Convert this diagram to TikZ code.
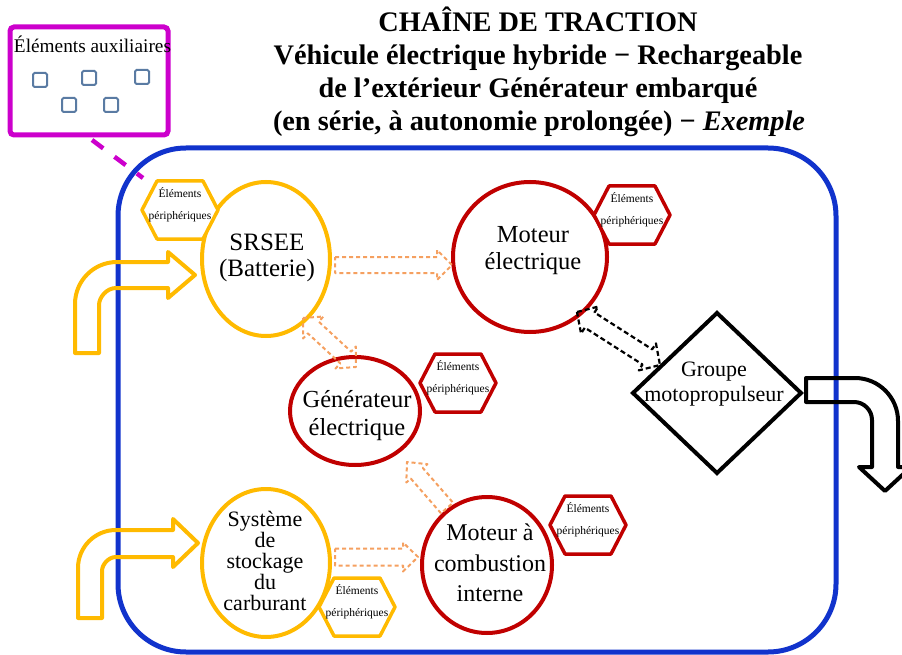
\documentclass[tikz,border=0pt]{standalone}
\usepackage{fontspec}
\setmainfont{Liberation Serif}
\usetikzlibrary{shapes.geometric,calc}
\definecolor{yel}{HTML}{FFBA00}
\definecolor{redc}{HTML}{C00000}
\definecolor{blu}{HTML}{1133CC}
\definecolor{mag}{HTML}{CC00CC}
\definecolor{ora}{HTML}{F5A060}
\definecolor{sqc}{HTML}{5A7BA3}
\tikzset{
  yelip/.style={ellipse, draw=yel, line width=4, fill=white, inner sep=0},
  redelip/.style={ellipse, draw=redc, line width=4, fill=white, inner sep=0},
  hextext/.style={font=\fontsize{11.5}{22}\selectfont, align=center, inner sep=0},
  bigtext/.style={align=center, inner sep=0},
  titletext/.style={font=\fontsize{28.3}{33}\selectfont\bfseries, anchor=base, inner sep=0},
  sqbox/.style={draw=sqc, line width=2, rounded corners=1.5, minimum size=14, inner sep=0},
  oradash/.style={draw=ora, line width=2, dash pattern=on 4pt off 3pt, line join=round},
  blkdash/.style={draw=black, line width=2.2, dash pattern=on 5pt off 3pt, line join=round},
}
% single hollow block arrow: style, from, to, shaft half, head half, head length
\newcommand\blockarrow[6]{%
  \pgfpointdiff{\pgfpointanchor{#2}{center}}{\pgfpointanchor{#3}{center}}%
  \pgfgetlastxy{\badx}{\bady}%
  \pgfmathsetmacro\baang{atan2(\bady,\badx)}%
  \pgfmathsetmacro\balen{veclen(\badx,\bady)}%
  \begin{scope}[shift={(#2)}, rotate=\baang, x=1pt, y=1pt]
    \draw[#1] (0,#4) -- ({\balen-#6},#4) -- ({\balen-#6},#5) -- (\balen,0)
      -- ({\balen-#6},-#5) -- ({\balen-#6},-#4) -- (0,-#4) -- cycle;
  \end{scope}}
% double hollow block arrow
\newcommand\dblockarrow[6]{%
  \pgfpointdiff{\pgfpointanchor{#2}{center}}{\pgfpointanchor{#3}{center}}%
  \pgfgetlastxy{\badx}{\bady}%
  \pgfmathsetmacro\baang{atan2(\bady,\badx)}%
  \pgfmathsetmacro\balen{veclen(\badx,\bady)}%
  \begin{scope}[shift={(#2)}, rotate=\baang, x=1pt, y=1pt]
    \draw[#1] (0,0) -- (#6,#5) -- (#6,#4) -- ({\balen-#6},#4) -- ({\balen-#6},#5) -- (\balen,0)
      -- ({\balen-#6},-#5) -- ({\balen-#6},-#4) -- (#6,-#4) -- (#6,-#5) -- cycle;
  \end{scope}}
% hexagon with label
\newcommand\hexat[3]{%
  \coordinate (#1) at #2;
  \draw[#3, line width=3.5, fill=white, line join=round]
    ([xshift=-38pt]#1) -- ([xshift=-23pt,yshift=29pt]#1) -- ([xshift=23pt,yshift=29pt]#1)
    -- ([xshift=38pt]#1) -- ([xshift=23pt,yshift=-29pt]#1) -- ([xshift=-23pt,yshift=-29pt]#1) -- cycle;
  \node[hextext] (#1t) at ([yshift=5pt]#1) {Éléments\\périphériques};
}
\begin{document}
\begin{tikzpicture}[x=1pt,y=-1pt]
\useasboundingbox (0,0) rectangle (902,655);

% frame
\node[draw=blu, line width=5, rounded corners=68, minimum width=718, minimum height=504, inner sep=0] (frame) at (477,400) {};

% auxiliary box
\coordinate (mstart) at (92,140);
\coordinate (mend) at (143,178);
\draw[mag, line width=4.5, dash pattern=on 14pt off 14pt] (mstart) -- (mend);
\node[draw=mag, line width=5, rounded corners=4, minimum width=158, minimum height=108, inner sep=0] (aux) at (89,81) {};
\node[font=\fontsize{19.3}{20}\selectfont, anchor=base, inner sep=0] (auxt) at (92.5,53) {Éléments auxiliaires};
\node[sqbox] (sq1) at (40,80) {};
\node[sqbox] (sq2) at (89,78) {};
\node[sqbox] (sq3) at (142,77) {};
\node[sqbox] (sq4) at (69,105) {};
\node[sqbox] (sq5) at (111,105) {};

% title
\node[titletext] (t1) at (538,32) {CHAÎNE DE TRACTION};
\node[titletext] (t2) at (538,65) {Véhicule électrique hybride − Rechargeable};
\node[titletext] (t3) at (538,98) {de l’extérieur Générateur embarqué};
\node[titletext] (t4) at (539,131) {(en série, à autonomie prolongée) − \textit{Exemple}};

% incoming bent arrows
\draw[yel, line width=4, line join=round] (75,353) -- (75,304) .. controls (75,280.8) and (93.8,262) .. (117,262)
  -- (168,262) -- (168,252) -- (195,275) -- (168,298) -- (168,288) -- (116,288)
  .. controls (106.6,288) and (99,297.4) .. (99,305) -- (99,353) -- cycle;
\draw[yel, line width=4, line join=round] (78,618) -- (78,568) .. controls (78,547) and (95,530) .. (116,530)
  -- (173,530) -- (173,519) -- (198,543) -- (173,567) -- (173,557) -- (116,557)
  .. controls (108.3,557) and (102,564.7) .. (102,571) -- (102,618) -- cycle;

% outgoing bent arrow
\draw[black, line width=4, line join=round] (806,378) -- (855,378) .. controls (878.7,378) and (898,397.3) .. (898,421)
  -- (898,467) -- (911,467) -- (885,491) -- (859,467) -- (872,467) -- (872,420)
  .. controls (872,410.1) and (863.9,402) .. (854,402) -- (806,402) -- cycle;

% main components
\node[yelip, minimum width=128, minimum height=154] (srsee) at (266,259) {};
\node[redelip, minimum width=154, minimum height=150] (motel) at (530,257) {};
\node[redelip, minimum width=130, minimum height=108] (gen) at (355,411) {};
\node[redelip, minimum width=130, minimum height=136] (mci) at (487,565) {};
\node[yelip, minimum width=128, minimum height=148] (stock) at (266,563) {};

\coordinate (gmp) at (717,393);
\draw[black, line width=4, fill=white, line join=miter] ([yshift=80pt]gmp) -- ([xshift=84pt]gmp) -- ([yshift=-80pt]gmp) -- ([xshift=-84pt]gmp) -- cycle;

% peripheral hexagons
\hexat{h1}{(180,210)}{yel}
\hexat{h2}{(632,215)}{redc}
\hexat{h3}{(458,383)}{redc}
\hexat{h4}{(588,525)}{redc}
\hexat{h5}{(357,607)}{yel}

% flow arrows
\coordinate (a1s) at (335,265); \coordinate (a1e) at (452,265);
\coordinate (a2s) at (303,318); \coordinate (a2e) at (356,367);
\coordinate (a3s) at (447,508); \coordinate (a3e) at (407,462);
\coordinate (a4s) at (335,557); \coordinate (a4e) at (418,557);
\coordinate (a5s) at (577,312); \coordinate (a5e) at (660,365);
\blockarrow{oradash}{a1s}{a1e}{8}{15}{15}
\dblockarrow{oradash}{a2s}{a2e}{8}{15}{14}
\blockarrow{oradash}{a3s}{a3e}{8}{14}{15}
\blockarrow{oradash}{a4s}{a4e}{8.5}{14.5}{15}
\dblockarrow{blkdash}{a5s}{a5e}{9}{16}{15}

% labels
\node[bigtext, font=\fontsize{25}{26}\selectfont] (srseet) at (267,258) {SRSEE\\(Batterie)};
\node[bigtext, font=\fontsize{24.5}{27}\selectfont] (motelt) at (533,251) {Moteur\\électrique};
\node[bigtext, font=\fontsize{24.5}{28}\selectfont] (gent) at (357,416) {Générateur\\électrique};
\node[bigtext, font=\fontsize{24}{30.5}\selectfont] (mcit) at (490,563) {Moteur à\\combustion\\interne};
\node[bigtext, font=\fontsize{22}{21}\selectfont] (stockt) at (265,561) {Système\\de\\stockage\\du\\carburant};
\node[bigtext, font=\fontsize{22}{25}\selectfont] (gmpt) at (714,384) {Groupe\\motopropulseur};
\end{tikzpicture}
\end{document}
